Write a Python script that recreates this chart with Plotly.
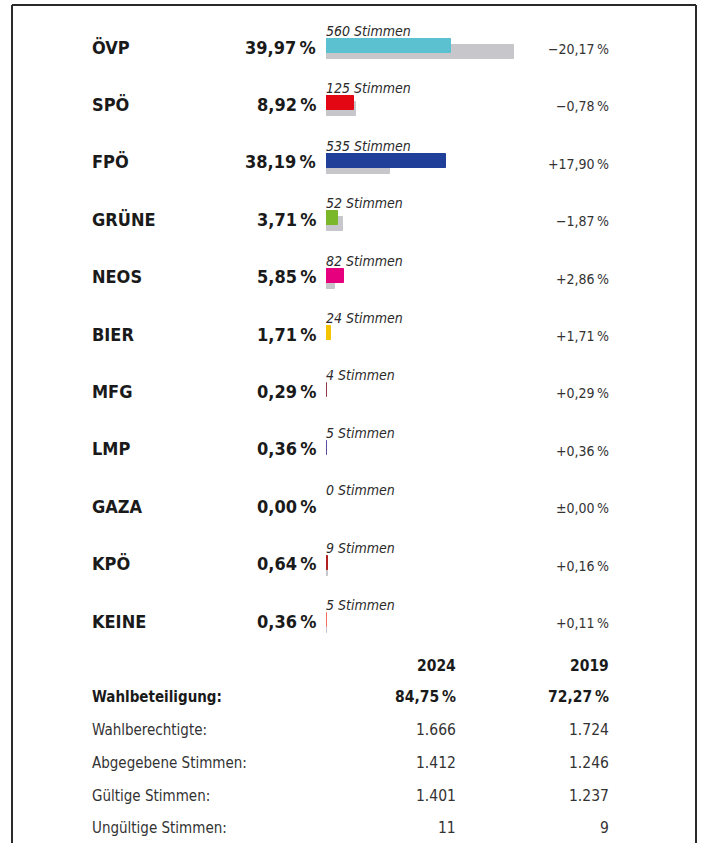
import plotly.graph_objects as go

parties = ["ÖVP", "SPÖ", "FPÖ", "GRÜNE", "NEOS", "BIER", "MFG", "LMP", "GAZA", "KPÖ", "KEINE"]
pct_2024 = [39.97, 8.92, 38.19, 3.71, 5.85, 1.71, 0.29, 0.36, 0.00, 0.64, 0.36]
pct_2019 = [60.14, 9.70, 20.29, 5.58, 2.99, 0.00, 0.00, 0.00, 0.00, 0.48, 0.25]
votes_2024 = [560, 125, 535, 52, 82, 24, 4, 5, 0, 9, 5]
colors = ["#5bc0cf", "#e30613", "#1f3f99", "#7ab829", "#e6007e", "#f5c400",
          "#8a3a4a", "#5a4aa0", "#999999", "#b0201e", "#f07060"]

table_labels = ["Wahlbeteiligung:", "Wahlberechtigte:", "Abgegebene Stimmen:",
                "Gültige Stimmen:", "Ungültige Stimmen:"]
table_2024 = ["84,75\u202f%", "1.666", "1.412", "1.401", "11"]
table_2019 = ["72,27\u202f%", "1.724", "1.246", "1.237", "9"]
years = ["2024", "2019"]

W, H = 701, 843
FONT = "Liberation Sans Narrow, DejaVu Sans Condensed, Arial Narrow, sans-serif"
ROW0, ROWSTEP = 47, 57.4


def fmt(v, dec=2):
    return f"{v:.{dec}f}".replace(".", ",")


def fmt_change(d):
    d = round(d, 2)
    if abs(d) < 0.005:
        return "±" + fmt(0) + "\u202f%"
    sign = "+" if d > 0 else "\u2212"
    return sign + fmt(abs(d)) + "\u202f%"


idx = list(range(len(parties)))
bw = 14 / ROWSTEP

fig = go.Figure()
fig.add_trace(go.Bar(
    x=pct_2019, y=[i + 5 / ROWSTEP for i in idx], orientation="h",
    width=bw, marker=dict(color="#c6c6cb", line=dict(color="#c6c6cb", width=1)),
    hoverinfo="skip", showlegend=False))
fig.add_trace(go.Bar(
    x=pct_2024, y=[i - 1 / ROWSTEP for i in idx], orientation="h",
    width=bw, marker=dict(color=colors, line=dict(color=colors, width=1)),
    hoverinfo="skip", showlegend=False))

x0 = 326
scale = 3.13
yr_top = -ROW0 / ROWSTEP
yr_bot = (H - ROW0) / ROWSTEP

fig.update_layout(
    width=W, height=H, margin=dict(l=0, r=0, t=0, b=0),
    paper_bgcolor="white", plot_bgcolor="rgba(0,0,0,0)",
    barmode="overlay", bargap=0,
    xaxis=dict(domain=[x0 / W, 1], range=[0, (W - x0) / scale],
               visible=False, fixedrange=True),
    yaxis=dict(domain=[0, 1], range=[yr_bot, yr_top], visible=False, fixedrange=True),
    font=dict(family=FONT, color="#222"),
)

ann = []
for i in idx:
    ann.append(dict(x=90 / W, xref="paper", y=i, yref="y", text=f"<b>{parties[i]}</b>",
                    xanchor="left", yanchor="middle", showarrow=False,
                    font=dict(size=18, color="#1a1a1a")))
    ann.append(dict(x=318 / W, xref="paper", y=i, yref="y", text=f"<b>{fmt(pct_2024[i])}\u202f%</b>",
                    xanchor="right", yanchor="middle", showarrow=False,
                    font=dict(size=18, color="#1a1a1a")))
    ann.append(dict(x=611 / W, xref="paper", y=i + 2 / ROWSTEP, yref="y",
                    text=fmt_change(pct_2024[i] - pct_2019[i]),
                    xanchor="right", yanchor="middle", showarrow=False,
                    font=dict(size=14, color="#333")))
    ann.append(dict(x=0, xref="x", y=i - 16 / ROWSTEP, yref="y",
                    text=f"<i>{votes_2024[i]} Stimmen</i>",
                    xanchor="left", yanchor="middle", showarrow=False, xshift=-2,
                    font=dict(size=14, color="#2a2a2a")))

# table
ty_header = 666
ty_rows = [697, 730, 763, 796, 828]
for j, (yv, xr) in enumerate(zip(years, [458, 611])):
    ann.append(dict(x=xr / W, xref="paper", y=1 - ty_header / H, yref="paper",
                    text=f"<b>{yv}</b>", xanchor="right", yanchor="middle",
                    showarrow=False, font=dict(size=15.5, color="#1a1a1a")))
for k, lbl in enumerate(table_labels):
    b0, b1 = ("<b>", "</b>") if k == 0 else ("", "")
    col = "#1a1a1a" if k == 0 else "#333"
    yp = 1 - ty_rows[k] / H
    ann.append(dict(x=90 / W, xref="paper", y=yp, yref="paper", text=b0 + lbl + b1,
                    xanchor="left", yanchor="middle", showarrow=False,
                    font=dict(size=15, color=col)))
    ann.append(dict(x=458 / W, xref="paper", y=yp, yref="paper", text=b0 + table_2024[k] + b1,
                    xanchor="right", yanchor="middle", showarrow=False,
                    font=dict(size=15.5, color=col)))
    ann.append(dict(x=611 / W, xref="paper", y=yp, yref="paper", text=b0 + table_2019[k] + b1,
                    xanchor="right", yanchor="middle", showarrow=False,
                    font=dict(size=15.5, color=col)))

fig.update_layout(annotations=ann)

# frame
frame_col = "#2a2a2a"
fig.add_shape(type="line", xref="paper", yref="paper", x0=12 / W, x1=696 / W,
              y0=1 - 5 / H, y1=1 - 5 / H, line=dict(color=frame_col, width=2))
fig.add_shape(type="line", xref="paper", yref="paper", x0=12 / W, x1=12 / W,
              y0=1 - 5 / H, y1=0, line=dict(color=frame_col, width=2))
fig.add_shape(type="line", xref="paper", yref="paper", x0=696 / W, x1=696 / W,
              y0=1 - 5 / H, y1=0, line=dict(color=frame_col, width=2))

fig.write_html(
    "out.html",
    config={"displayModeBar": False},
    post_script="document.body.style.margin='0';document.body.style.overflow='hidden';",
)
